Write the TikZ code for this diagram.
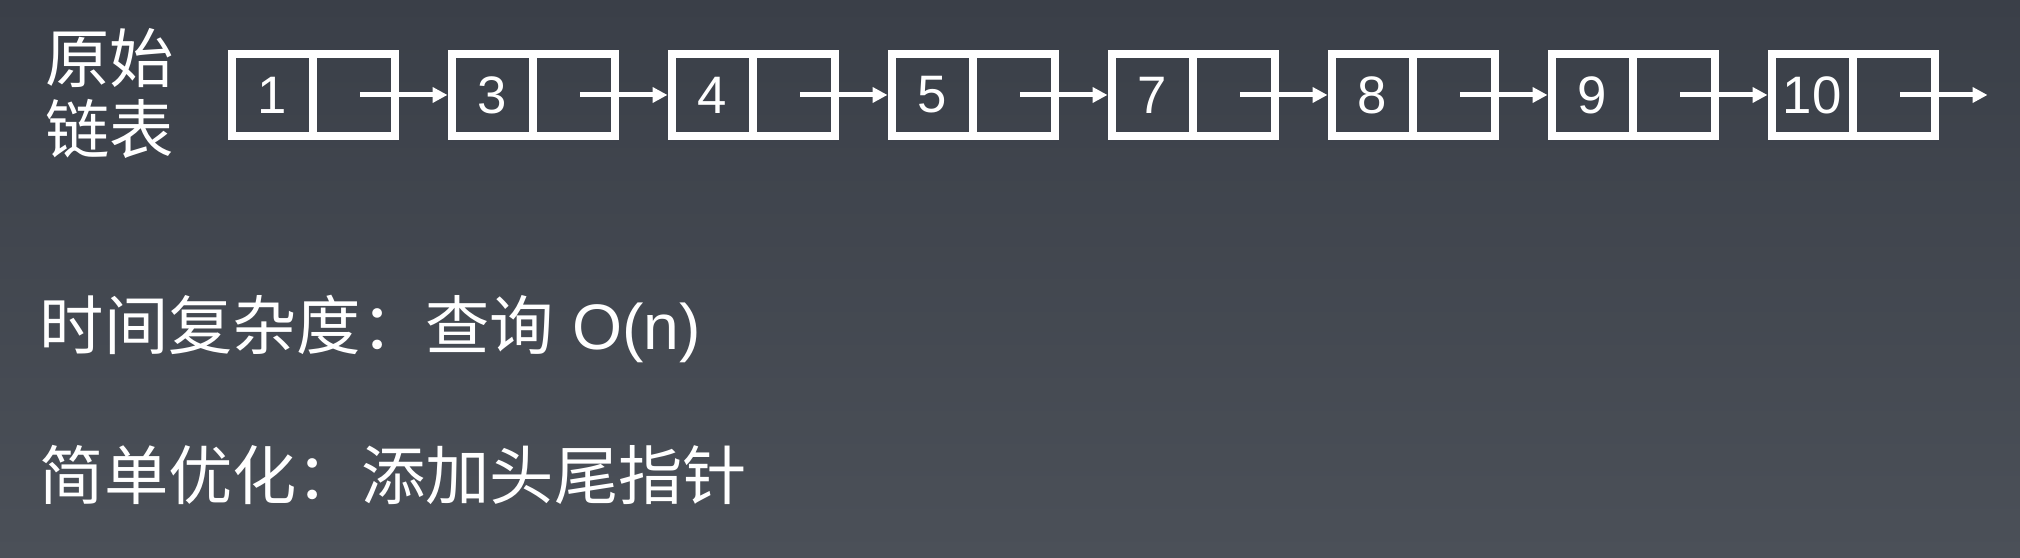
\documentclass[tikz,border=0pt]{standalone}
\usepackage{fontspec}
\setmainfont{Liberation Sans}
\newfontfamily\cjkfont{Noto Sans CJK SC}
\usetikzlibrary{arrows.meta, positioning}
\definecolor{slatetop}{HTML}{3A3F48}
\definecolor{slatebottom}{HTML}{4B5058}
\definecolor{framewhite}{HTML}{FFFFFF}
\tikzset{
  cell/.style={draw=framewhite, line width=0.08cm, outer sep=0pt, inner sep=0pt,
               minimum width=0.815cm, minimum height=0.82cm,
               text=white, font=\fontsize{15}{18}\selectfont},
  link/.style={draw=white, line width=0.05cm,
               -{Triangle[length=0.15cm, width=0.15cm]}, shorten >=0.04cm},
  caption/.style={text=white, inner sep=0pt, font=\cjkfont\fontsize{18.3}{20.2}\selectfont}
}
\begin{document}
\begin{tikzpicture}
\shade[top color=slatetop, bottom color=slatebottom] (0,0) rectangle (20.2,5.58);
\useasboundingbox (0,0) rectangle (20.2,5.58);
% linked list
\node[cell] (v1) at (2.7225,4.63) {1};
\node[cell, right=0pt of v1] (p1) {};
\node[cell, right=0.57cm of p1] (v3) {3};
\node[cell, right=0pt of v3] (p3) {};
\node[cell, right=0.57cm of p3] (v4) {4};
\node[cell, right=0pt of v4] (p4) {};
\node[cell, right=0.57cm of p4] (v5) {5};
\node[cell, right=0pt of v5] (p5) {};
\node[cell, right=0.57cm of p5] (v7) {7};
\node[cell, right=0pt of v7] (p7) {};
\node[cell, right=0.57cm of p7] (v8) {8};
\node[cell, right=0pt of v8] (p8) {};
\node[cell, right=0.57cm of p8] (v9) {9};
\node[cell, right=0pt of v9] (p9) {};
\node[cell, right=0.57cm of p9] (v10) {10};
\node[cell, right=0pt of v10] (p10) {};
\coordinate[right=0.57cm of p10] (tail);
\draw[link] ([xshift=0.06cm]p1.center) -- (v3.west);
\draw[link] ([xshift=0.06cm]p3.center) -- (v4.west);
\draw[link] ([xshift=0.06cm]p4.center) -- (v5.west);
\draw[link] ([xshift=0.06cm]p5.center) -- (v7.west);
\draw[link] ([xshift=0.06cm]p7.center) -- (v8.west);
\draw[link] ([xshift=0.06cm]p8.center) -- (v9.west);
\draw[link] ([xshift=0.06cm]p9.center) -- (v10.west);
\draw[link] ([xshift=0.06cm]p10.center) -- (tail);
% texts
\node[caption, align=center] (title) at (1.095,4.645) {原始\\链表};
\node[caption, anchor=base west] (cost) at (0.39,2.08) {时间复杂度：查询{\fontspec{Liberation Sans}\ O(n)}};
\node[caption, anchor=base west] (tip) at (0.39,0.58) {简单优化：添加头尾指针};
\end{tikzpicture}
\end{document}
